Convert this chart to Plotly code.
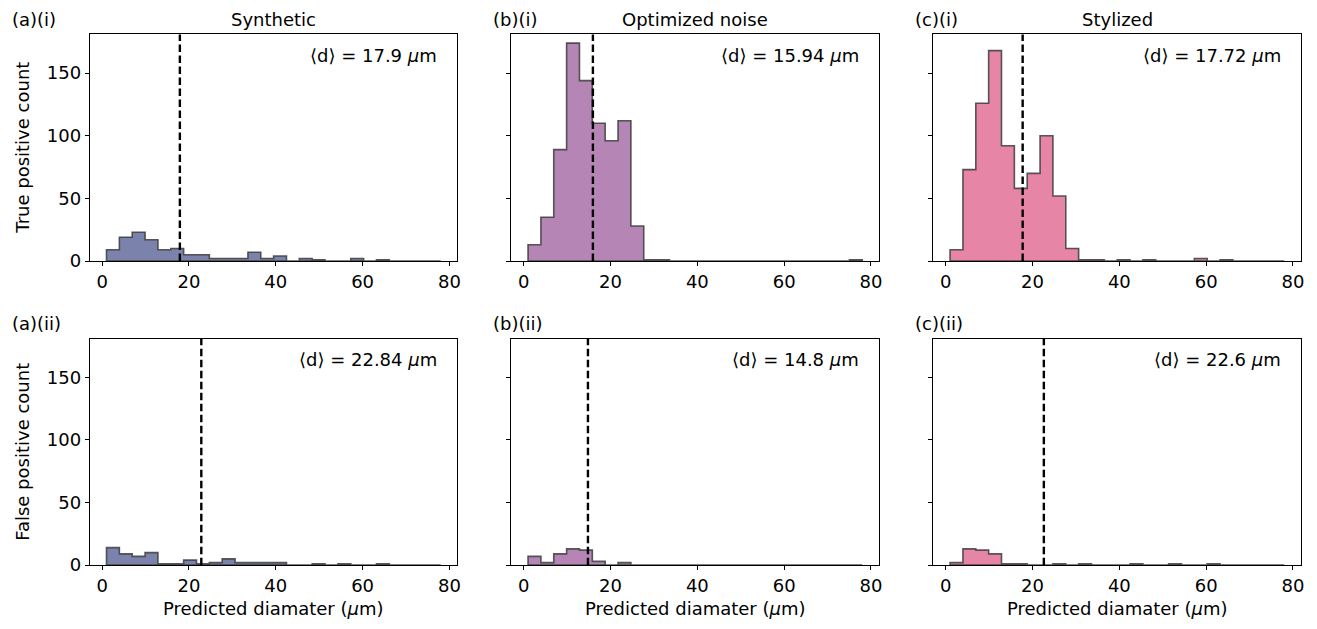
import plotly.graph_objects as go

# ---- data ----
bin_start = 1.0
bin_end = 78.0
n_bins = 26

synthetic_tp = [9, 19, 23, 17, 9, 10, 5, 5, 2, 2, 2, 7, 2, 4, 0, 2, 1, 0, 0, 2, 0, 1, 0, 0, 0, 0]
optimized_tp = [13, 35, 89, 174, 144, 110, 96, 112, 28, 1, 1, 0, 0, 0, 0, 0, 0, 0, 0, 0, 0, 0, 0, 0, 0, 1]
stylized_tp = [9, 73, 126, 168, 92, 58, 70, 100, 52, 10, 1, 1, 0, 1, 0, 1, 0, 0, 0, 2, 0, 1, 0, 0, 0, 0]

synthetic_fp = [14, 9, 7, 10, 1, 1, 4, 1, 2, 5, 2, 2, 2, 2, 0, 0, 1, 0, 1, 0, 0, 1, 0, 0, 0, 0]
optimized_fp = [7, 2, 9, 13, 12, 3, 0, 2, 0, 0, 0, 0, 0, 0, 0, 0, 0, 0, 0, 0, 0, 0, 0, 0, 0, 0]
stylized_fp = [2, 13, 12, 9, 1, 1, 0, 0, 1, 0, 1, 0, 0, 0, 1, 0, 0, 1, 0, 0, 1, 0, 0, 0, 0, 0]

means_tp = [17.9, 15.94, 17.72]
means_fp = [22.84, 14.8, 22.6]

column_titles = ["Synthetic", "Optimized noise", "Stylized"]
labels_tp = ["(a)(i)", "(b)(i)", "(c)(i)"]
labels_fp = ["(a)(ii)", "(b)(ii)", "(c)(ii)"]
row_titles = ["True positive count", "False positive count"]
x_title = "Predicted diamater (<i>μ</i>m)"
colors = ["#7B83AD", "#B586B5", "#E685A5"]
x_ticks = [0, 20, 40, 60, 80]
y_ticks = [0, 50, 100, 150]

# ---- layout geometry ----
W, H = 1317, 629
col_px = [(90, 458.5), (512.5, 881), (935.5, 1304)]
row_px = [(35, 265.3), (344, 574.3)]
FONT = "DejaVu Sans"
FS = 18

width = (bin_end - bin_start) / n_bins
edges = [bin_start + i * width for i in range(n_bins + 1)]

fig = go.Figure()

data_rows = [[synthetic_tp, optimized_tp, stylized_tp], [synthetic_fp, optimized_fp, stylized_fp]]
mean_rows = [means_tp, means_fp]
label_rows = [labels_tp, labels_fp]

annotations = []
shapes = []
txtfont = dict(family=FONT, size=FS, color="black")
for r in range(2):
    for c in range(3):
        idx = r * 3 + c + 1
        xa = "x" if idx == 1 else f"x{idx}"
        ya = "y" if idx == 1 else f"y{idx}"
        counts = data_rows[r][c]
        xs = [edges[0]]
        ys = [0]
        for i, v in enumerate(counts):
            xs += [edges[i], edges[i + 1]]
            ys += [v, v]
        xs += [edges[-1], edges[0]]
        ys += [0, 0]
        fig.add_trace(go.Scatter(
            x=xs, y=ys, mode="lines", fill="toself", fillcolor=colors[c],
            line=dict(color="rgba(60,60,60,0.85)", width=1.6),
            xaxis=xa, yaxis=ya, showlegend=False, hoverinfo="skip"))
        m = mean_rows[r][c]
        shapes.append(dict(type="line", xref=xa, yref=f"{ya} domain", x0=m, x1=m, y0=0, y1=1,
                           line=dict(color="black", width=2.4, dash="7.5px,3.5px")))
        x0p, x1p = col_px[c]
        y0p, y1p = row_px[r]
        dx = [x0p / W, x1p / W]
        dy = [1 - y1p / H, 1 - y0p / H]
        axname = "xaxis" if idx == 1 else f"xaxis{idx}"
        ayname = "yaxis" if idx == 1 else f"yaxis{idx}"
        fig.layout[axname] = dict(
            domain=dx, range=[-2.85, 81.85], tickvals=x_ticks, ticks="outside", ticklen=4,
            tickwidth=1, tickcolor="black", showline=True, linecolor="black", linewidth=1.1,
            mirror=True, showgrid=False, zeroline=False, anchor=ya,
            tickfont=txtfont)
        fig.layout[ayname] = dict(
            domain=dy, range=[0, 180.9], tickvals=y_ticks, ticks="outside", ticklen=4,
            tickwidth=1, tickcolor="black", showline=True, linecolor="black", linewidth=1.1,
            mirror=True, showgrid=False, zeroline=False, anchor=xa,
            showticklabels=(c == 0), tickfont=txtfont)
        # mean text
        annotations.append(dict(
            text=f"⟨d⟩ = {m} <i>μ</i>m", xref="paper", yref="paper",
            x=(x1p - 18) / W, y=1 - (y0p + 21) / H, xanchor="right", yanchor="middle",
            showarrow=False, font=txtfont))
        # panel label
        annotations.append(dict(
            text=label_rows[r][c], xref="paper", yref="paper",
            x=(x0p - 80) / W if c == 0 else (x0p - 20) / W, y=1 - (y0p - 15) / H,
            xanchor="left", yanchor="middle", showarrow=False, font=txtfont))
        if r == 0:
            annotations.append(dict(
                text=column_titles[c], xref="paper", yref="paper",
                x=(x0p + x1p) / 2 / W, y=1 - (y0p - 15) / H,
                xanchor="center", yanchor="middle", showarrow=False, font=txtfont))
        else:
            annotations.append(dict(
                text=x_title, xref="paper", yref="paper",
                x=(x0p + x1p) / 2 / W, y=-2 / H,
                xanchor="center", yanchor="bottom", showarrow=False, font=txtfont))
    annotations.append(dict(
        text=row_titles[r], xref="paper", yref="paper",
        x=23 / W, y=1 - (row_px[r][0] + row_px[r][1]) / 2 / H, textangle=-90,
        xanchor="center", yanchor="middle", showarrow=False, font=txtfont))

fig.update_layout(
    width=W, height=H, margin=dict(l=0, r=0, t=0, b=0),
    paper_bgcolor="white", plot_bgcolor="white",
    annotations=annotations, shapes=shapes, showlegend=False)

fig.write_html("out.html")
